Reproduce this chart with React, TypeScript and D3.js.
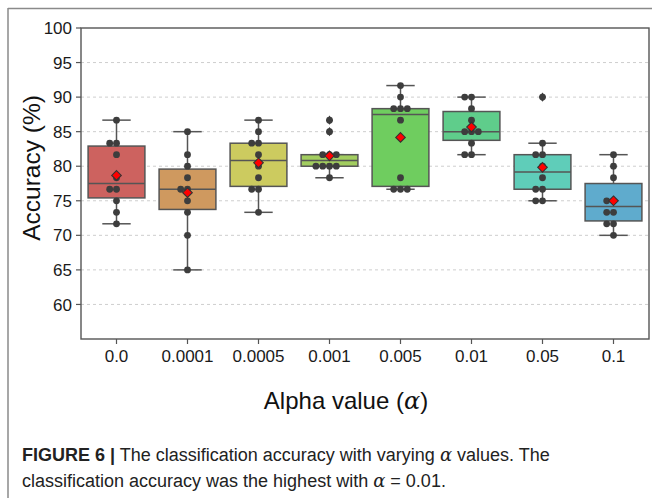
import React from "react";
import * as d3 from "d3";

// categories (alpha values) and box fill colours
const alphas = ["0.0", "0.0001", "0.0005", "0.001", "0.005", "0.01", "0.05", "0.1"];
const boxColors = ["#cd625f", "#cf995f", "#cccb5f", "#a2cd5f", "#6fcd5f", "#5fcd8b", "#5fcdb9", "#5fabcd"];

// accuracy per fold (%), one array per alpha
const acc0 = [86.67, 83.33, 83.33, 81.67, 78.33, 76.67, 76.67, 75, 73.33, 71.67];
const acc0001 = [85, 81.67, 80, 78.33, 76.67, 76.67, 75, 73.33, 70, 65];
const acc0005 = [86.67, 85, 83.33, 83.33, 81.67, 80, 78.33, 76.67, 76.67, 73.33];
const acc001 = [86.67, 85, 81.67, 81.67, 81.67, 80, 80, 80, 80, 78.33];
const acc005 = [91.67, 90, 88.33, 88.33, 88.33, 86.67, 78.33, 76.67, 76.67, 76.67];
const acc01 = [90, 90, 88.33, 86.67, 85, 85, 85, 83.33, 81.67, 81.67];
const acc05 = [90, 83.33, 81.67, 81.67, 80, 78.33, 76.67, 76.67, 75, 75];
const acc1 = [81.67, 80, 78.33, 75, 75, 73.33, 73.33, 71.67, 71.67, 70];
const series = [acc0, acc0001, acc0005, acc001, acc005, acc01, acc05, acc1];

const yTicks = [60, 65, 70, 75, 80, 85, 90, 95, 100];

const W = 652;
const H = 498;
const left = 81;
const right = 649;
const top = 28;
const bottom = 339;

const edge = "#555555";
const dotColor = "#3d3d3d";
const font = "Arial, 'Liberation Sans', Helvetica, sans-serif";

function boxStats(values: number[]) {
  const s = values.slice().sort(d3.ascending);
  const q1 = d3.quantile(s, 0.25)!;
  const med = d3.quantile(s, 0.5)!;
  const q3 = d3.quantile(s, 0.75)!;
  const iqr = q3 - q1;
  const lo = q1 - 1.5 * iqr - 1e-6;
  const hi = q3 + 1.5 * iqr + 1e-6;
  const inside = s.filter((v) => v >= lo && v <= hi);
  return {
    q1,
    med,
    q3,
    wLo: d3.min(inside)!,
    wHi: d3.max(inside)!,
    fliers: s.filter((v) => v < lo || v > hi),
    mean: d3.mean(s)!,
  };
}

// simple beeswarm: each point goes to the nearest free slot (0, -1, +1, -2, +2 ...)
function swarm(values: number[], y: d3.ScaleLinear<number, number>, r: number) {
  const s = values.slice().sort(d3.ascending);
  const placed: { x: number; y: number }[] = [];
  const step = 2 * r;
  s.forEach((v) => {
    const py = y(v);
    for (let i = 0; i < 20; i++) {
      const k = i === 0 ? 0 : i % 2 === 1 ? -Math.ceil(i / 2) : Math.ceil(i / 2);
      const px = k * step;
      const hit = placed.some((p) => (p.x - px) ** 2 + (p.y - py) ** 2 < step * step - 0.5);
      if (!hit) {
        placed.push({ x: px, y: py });
        break;
      }
    }
  });
  return placed;
}

export default function App() {
  const x = d3.scaleBand<string>().domain(alphas).range([left, right]).padding(0);
  const y = d3.scaleLinear().domain([55, 100]).range([bottom, top]);
  const bw = x.bandwidth() * 0.8;
  const r = 3.4;

  return (
    <svg
      width={W}
      height={H}
      style={{ position: "absolute", left: 0, top: 0, background: "#fff" }}
      fontFamily={font}
    >
      {/* outer frame */}
      <line x1={8} y1={8.5} x2={W} y2={8.5} stroke="#8a8a8a" strokeWidth={1.5} />
      <line x1={8} y1={8} x2={8} y2={H} stroke="#8a8a8a" strokeWidth={1.5} />

      {/* grid */}
      {yTicks.filter((t) => t < 100).map((t) => (
        <line key={t} x1={left} x2={right} y1={y(t)} y2={y(t)} stroke="#c8c8c8" strokeWidth={0.9} strokeDasharray="3,3" />
      ))}

      {/* boxes */}
      {series.map((vals, i) => {
        const st = boxStats(vals);
        const cx = x(alphas[i])! + x.bandwidth() / 2;
        const pts = swarm(vals, y, r);
        const my = y(st.mean);
        const md = 4.8;
        return (
          <g key={alphas[i]}>
            <line x1={cx} x2={cx} y1={y(st.q3)} y2={y(st.wHi)} stroke={edge} strokeWidth={1.5} />
            <line x1={cx} x2={cx} y1={y(st.q1)} y2={y(st.wLo)} stroke={edge} strokeWidth={1.5} />
            <line x1={cx - bw / 4} x2={cx + bw / 4} y1={y(st.wHi)} y2={y(st.wHi)} stroke={edge} strokeWidth={1.5} />
            <line x1={cx - bw / 4} x2={cx + bw / 4} y1={y(st.wLo)} y2={y(st.wLo)} stroke={edge} strokeWidth={1.5} />
            <rect
              x={cx - bw / 2}
              y={y(st.q3)}
              width={bw}
              height={y(st.q1) - y(st.q3)}
              fill={boxColors[i]}
              stroke={edge}
              strokeWidth={1.5}
            />
            <line x1={cx - bw / 2} x2={cx + bw / 2} y1={y(st.med)} y2={y(st.med)} stroke={edge} strokeWidth={1.5} />
            {st.fliers.map((f, j) => (
              <path
                key={j}
                d={`M${cx},${y(f) - 4.6}L${cx + 3.4},${y(f)}L${cx},${y(f) + 4.6}L${cx - 3.4},${y(f)}Z`}
                fill={dotColor}
              />
            ))}
            {pts.map((p, j) => (
              <circle key={j} cx={cx + p.x} cy={p.y} r={r} fill={dotColor} />
            ))}
            <path
              d={`M${cx},${my - md}L${cx + md},${my}L${cx},${my + md}L${cx - md},${my}Z`}
              fill="#ff0000"
              stroke="#333"
              strokeWidth={1.1}
            />
          </g>
        );
      })}

      {/* spines */}
      <rect x={left} y={top} width={right - left} height={bottom - top} fill="none" stroke={edge} strokeWidth={1.4} />

      {/* y axis */}
      {yTicks.map((t) => (
        <g key={t}>
          <line x1={left - 5} x2={left} y1={y(t)} y2={y(t)} stroke={edge} strokeWidth={1.2} />
          <text x={left - 9} y={y(t)} dy="0.36em" textAnchor="end" fontSize={17} fill="#1a1a1a">
            {t}
          </text>
        </g>
      ))}

      {/* x axis */}
      {alphas.map((a) => {
        const cx = x(a)! + x.bandwidth() / 2;
        return (
          <g key={a}>
            <line x1={cx} x2={cx} y1={bottom} y2={bottom + 5} stroke={edge} strokeWidth={1.2} />
            <text x={cx} y={bottom + 23} textAnchor="middle" fontSize={17} fill="#1a1a1a">
              {a}
            </text>
          </g>
        );
      })}

      {/* axis titles */}
      <text
        transform={`translate(${40},${168}) rotate(-90)`}
        textAnchor="middle"
        fontSize={24.5}
        fill="#111"
      >
        Accuracy (%)
      </text>
      <text x={346} y={409} textAnchor="middle" fontSize={24} fill="#111">
        Alpha value (
        <tspan fontFamily="'DejaVu Serif', serif" fontStyle="italic">α</tspan>)
      </text>

      {/* caption */}
      <text x={22} y={461} fontSize={18} fill="#222">
        <tspan fontWeight="bold">FIGURE 6 |</tspan> The classification accuracy with varying{" "}
        <tspan fontFamily="'DejaVu Serif', serif" fontStyle="italic">α</tspan> values. The
      </text>
      <text x={22} y={487} fontSize={18} fill="#222">
        classification accuracy was the highest with{" "}
        <tspan fontFamily="'DejaVu Serif', serif" fontStyle="italic">α</tspan> = 0.01.
      </text>
    </svg>
  );
}
